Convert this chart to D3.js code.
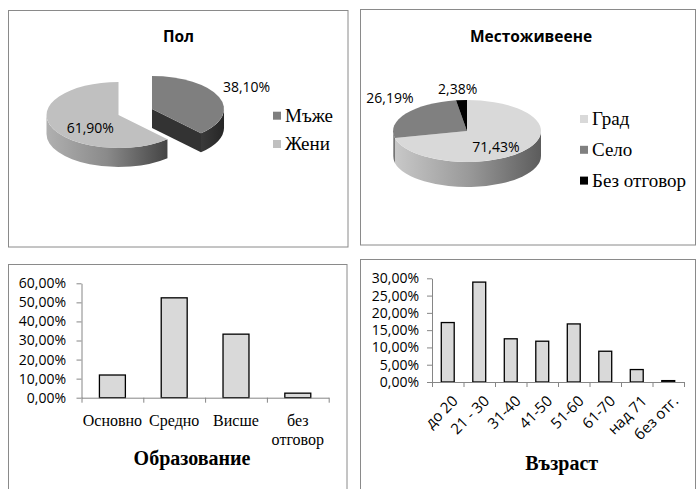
<!DOCTYPE html>
<html>
<head>
<meta charset="utf-8">
<script src="https://cdn.jsdelivr.net/npm/d3@7"></script>
<style>
  body { margin: 0; background: #fff; }
  svg { display: block; }
  .sans { font-family: "Open Sans", "Noto Sans", sans-serif; }
  .serif { font-family: "Liberation Serif", "DejaVu Serif", serif; }
</style>
</head>
<body>
<svg id="chart" width="696" height="489"></svg>
<script>
// Survey profile: gender, residence, education, age (shares in %)
const genderLabels = ["Мъже", "Жени"];
const genderValues = [38.10, 61.90];

const residenceLabels = ["Град", "Село", "Без отговор"];
const residenceValues = [71.43, 26.19, 2.38];

const educationLabels = ["Основно", "Средно", "Висше", "без отговор"];
const educationValues = [11.90, 52.38, 33.33, 2.38];
const educationTicks = [0, 10, 20, 30, 40, 50, 60];

const ageLabels = ["до 20", "21 - 30", "31-40", "41-50", "51-60", "61-70", "над 71", "без отг."];
const ageValues = [17.2, 28.9, 12.5, 11.8, 16.8, 8.9, 3.6, 0.4];
const ageTicks = [0, 5, 10, 15, 20, 25, 30];

const fmt = v => d3.format(".2f")(v).replace(".", ",") + "%";
const AXIS = "#868686";

const svg = d3.select("#chart");
const defs = svg.append("defs");

function gradient(id, stops) {
  const g = defs.append("linearGradient").attr("id", id)
    .attr("gradientUnits", "objectBoundingBox")
    .attr("x1", 0).attr("y1", 0).attr("x2", 1).attr("y2", 0);
  stops.forEach(([o, c]) => g.append("stop").attr("offset", o).attr("stop-color", c));
}
gradient("sideLight", [[0, "#c8c8c8"], [0.5, "#9a9a9a"], [1, "#5c5c5c"]]);
gradient("sideMid", [[0, "#b0b0b0"], [0.5, "#8a8a8a"], [1, "#444"]]);
gradient("sideDark", [[0, "#3a3a3a"], [1, "#262626"]]);

// Chart frames
const frames = [
  [8.5, 10.5, 339.5, 236.5],
  [360.5, 9.5, 335, 235.5],
  [8.5, 264.5, 338.5, 240],
  [360.5, 259.5, 335, 240]
];
svg.selectAll("rect.frame").data(frames).join("rect")
  .attr("class", "frame")
  .attr("x", d => d[0]).attr("y", d => d[1])
  .attr("width", d => d[2]).attr("height", d => d[3])
  .attr("fill", "#fff").attr("stroke", "#8a8a8a").attr("stroke-width", 1);

// ---------- 3D pie ----------
function pie3d(o) {
  const r = o.rx, k = o.ry / o.rx, depth = o.depth / k;
  const arcs = d3.pie().sort(null)(o.values);
  const P = (a, y0) => [r * Math.sin(a), -r * Math.cos(a) + y0];
  const arcGen = d3.arc().innerRadius(0).outerRadius(r);
  const root = svg.append("g")
    .attr("transform", `translate(${o.cx},${o.cy}) scale(1,${k})`);

  const offsetOf = (a, i) => {
    const dist = o.explode && o.explode[i] ? o.explode[i] : 0;
    const m = (a.startAngle + a.endAngle) / 2;
    return [dist * Math.sin(m), -dist * Math.cos(m)];
  };

  // back slices first (explode pushes them away from viewer)
  const order = arcs.map((a, i) => i).sort((i, j) => offsetOf(arcs[i], i)[1] - offsetOf(arcs[j], j)[1]);

  order.forEach(i => {
    const a = arcs[i];
    const [ox, oy] = offsetOf(a, i);
    const g = root.append("g").attr("transform", `translate(${ox},${oy})`);
    // outer wall, visible front half only
    const s = Math.max(a.startAngle, Math.PI / 2), e = Math.min(a.endAngle, 3 * Math.PI / 2);
    if (e > s) {
      const p1 = P(s, 0), p2 = P(e, 0), p3 = P(e, depth), p4 = P(s, depth);
      g.append("path")
        .attr("d", `M${p1}A${r},${r} 0 0 1 ${p2}L${p3}A${r},${r} 0 0 0 ${p4}Z`)
        .attr("fill", o.side[i]);
    }
    // radial cut faces of a separated slice
    if (o.explode && o.explode[i]) {
      if (a.endAngle > 0 && a.endAngle < Math.PI) {
        const q = P(a.endAngle, 0), q2 = P(a.endAngle, depth);
        g.append("path").attr("d", `M0,0L${q}L${q2}L0,${depth}Z`).attr("fill", o.face[i]);
      }
      if (a.startAngle > Math.PI && a.startAngle < 2 * Math.PI) {
        const q = P(a.startAngle, 0), q2 = P(a.startAngle, depth);
        g.append("path").attr("d", `M0,0L${q}L${q2}L0,${depth}Z`).attr("fill", o.face[i]);
      }
    }
    g.append("path").attr("d", arcGen(a)).attr("fill", o.top[i]);
  });

  // value labels
  arcs.forEach((a, i) => {
    const [ox, oy] = offsetOf(a, i);
    const m = (a.startAngle + a.endAngle) / 2;
    const f = o.labelRadius[i];
    const x = o.cx + ox + r * f * Math.sin(m) + o.labelNudge[i][0];
    const y = o.cy + (oy - r * f * Math.cos(m)) * k + o.labelNudge[i][1];
    svg.append("text").attr("class", "sans")
      .attr("x", x).attr("y", y).attr("dy", "0.35em")
      .attr("text-anchor", "middle").attr("font-size", 14).attr("fill", "#000")
      .text(fmt(o.values[i]));
  });

  // legend
  o.labels.forEach((t, i) => {
    const y = o.legendY + i * o.legendStep;
    svg.append("rect").attr("x", o.legendX).attr("y", y - 10).attr("width", 8).attr("height", 8)
      .attr("fill", o.top[i]);
    svg.append("text").attr("class", "serif")
      .attr("x", o.legendX + 12).attr("y", y).attr("font-size", 19).attr("fill", "#000")
      .text(t);
  });

  svg.append("text").attr("class", "sans")
    .attr("x", o.titleX).attr("y", 41.7).attr("text-anchor", "middle")
    .attr("font-size", 15.5).attr("font-weight", "bold").attr("fill", "#000")
    .text(o.title);
}

pie3d({
  title: "Пол", titleX: 178.5,
  values: genderValues, labels: genderLabels,
  cx: 118.5, cy: 115, rx: 72, ry: 33, depth: 19,
  explode: [36, 0],
  top: ["#7f7f7f", "#c0c0c0"],
  side: ["url(#sideDark)", "url(#sideMid)"],
  face: ["#333333", "#8a8a8a"],
  labelRadius: [1.41, 0.45], labelNudge: [[0, -5], [2, 7.5]],
  legendX: 273, legendY: 121.7, legendStep: 28.3
});

pie3d({
  title: "Местоживеене", titleX: 531,
  values: residenceValues, labels: residenceLabels,
  cx: 467, cy: 131, rx: 74, ry: 31, depth: 25,
  top: ["#d9d9d9", "#808080", "#000000"],
  side: ["url(#sideLight)", "url(#sideMid)", "#111"],
  face: ["#999", "#666", "#000"],
  labelRadius: [0.5, 1.26, 1.68], labelNudge: [[0, 6], [0, -10.5], [0, 10]],
  legendX: 580, legendY: 125, legendStep: 30.8
});

// ---------- column charts ----------
function columns(o) {
  const y = d3.scaleLinear().domain([0, d3.max(o.ticks)]).range([o.y0, o.y1]);
  const x = d3.scaleBand().domain(o.labels).range([o.x0, o.x1]).padding(0);
  const edge = d3.scaleLinear().domain([0, o.labels.length]).range([o.x0, o.x1]);

  const yAxis = svg.append("g").attr("transform", `translate(${o.x0},0)`)
    .call(d3.axisLeft(y).tickValues(o.ticks).tickSize(5).tickSizeOuter(0)
      .tickPadding(o.tickPad).tickFormat(fmt));
  yAxis.selectAll("text").attr("class", "sans").attr("font-size", 14).attr("fill", "#000");

  const bw = x.bandwidth() * o.barRatio;
  svg.append("g").selectAll("rect").data(o.values).join("rect")
    .attr("x", (d, i) => x(o.labels[i]) + (x.bandwidth() - bw) / 2)
    .attr("y", d => y(d))
    .attr("width", bw)
    .attr("height", d => y(0) - y(d))
    .attr("fill", "#d9d9d9").attr("stroke", "#000").attr("stroke-width", 1.3);

  const xAxis = svg.append("g").attr("transform", `translate(0,${o.y0})`)
    .call(d3.axisBottom(edge).tickValues(d3.range(o.labels.length + 1)).tickSize(5)
      .tickSizeOuter(0).tickFormat(""));

  [yAxis, xAxis].forEach(g => {
    g.select(".domain").attr("stroke", AXIS);
    g.selectAll(".tick line").attr("stroke", AXIS);
  });

  o.drawLabels(x);

  svg.append("text").attr("class", "serif")
    .attr("x", o.titleX).attr("y", o.titleY).attr("text-anchor", "middle")
    .attr("font-size", 20).attr("font-weight", "bold").attr("fill", "#000")
    .text(o.title);
}

columns({
  labels: educationLabels, values: educationValues, ticks: educationTicks,
  x0: 81.5, x1: 328.7, y0: 397.7, y1: 283.3, tickPad: 10.5, barRatio: 0.42,
  title: "Образование", titleX: 192, titleY: 465,
  drawLabels: x => {
    educationLabels.forEach(l => {
      const t = svg.append("text").attr("class", "serif")
        .attr("x", x(l) + x.bandwidth() / 2).attr("y", 426)
        .attr("text-anchor", "middle").attr("font-size", 16).attr("fill", "#000");
      l.split(" ").forEach((w, j) => t.append("tspan")
        .attr("x", x(l) + x.bandwidth() / 2).attr("dy", j ? 19 : 0).text(w));
    });
  }
});

columns({
  labels: ageLabels, values: ageValues, ticks: ageTicks,
  x0: 432, x1: 684, y0: 382, y1: 278.3, tickPad: 8, barRatio: 0.41,
  title: "Възраст", titleX: 561.7, titleY: 470,
  drawLabels: x => {
    ageLabels.forEach(l => {
      const cx = x(l) + x.bandwidth() / 2;
      svg.append("text").attr("class", "sans")
        .attr("transform", `translate(${cx + 11},${402}) rotate(-45)`)
        .attr("text-anchor", "end").attr("font-size", 15).attr("fill", "#000")
        .text(l);
    });
  }
});
</script>
</body>
</html>
